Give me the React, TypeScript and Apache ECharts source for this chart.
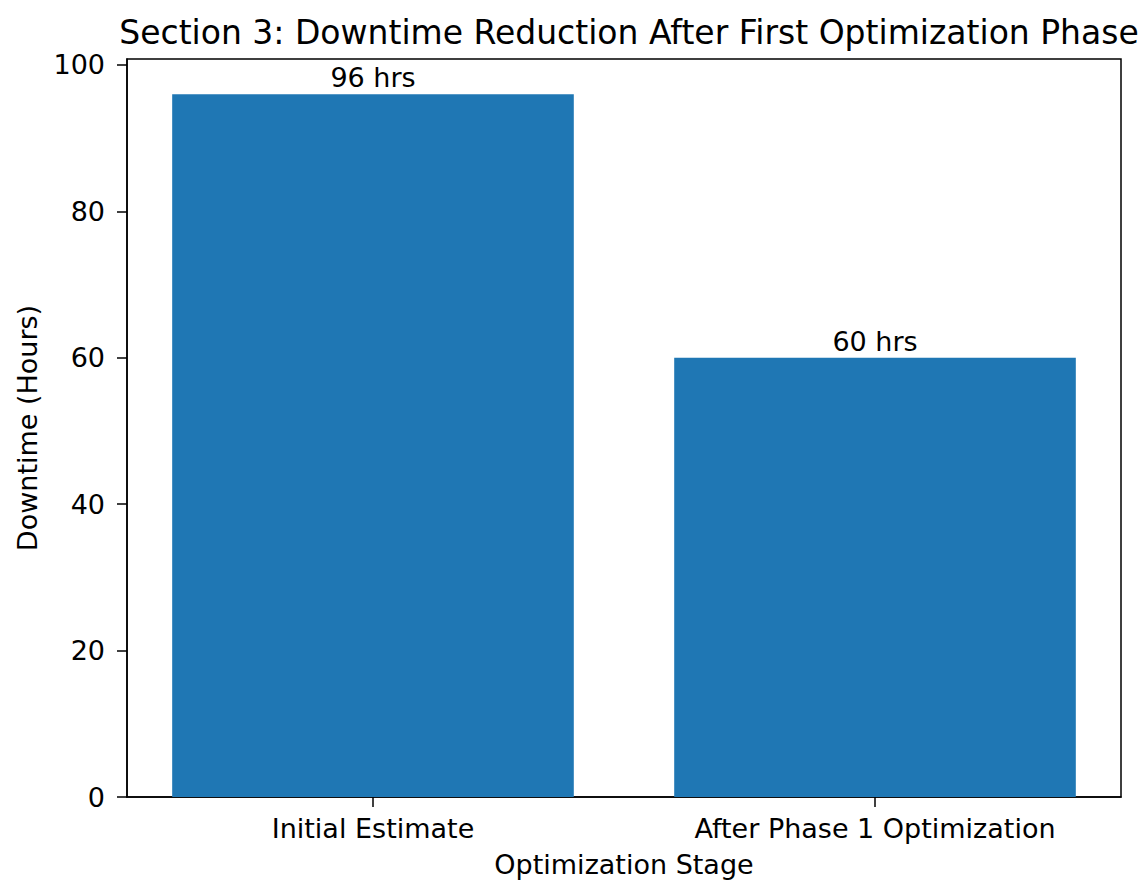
import React, { useEffect, useRef } from "react";
import * as echarts from "echarts";

const categories = ["Initial Estimate", "After Phase 1 Optimization"];
const downtime = [96, 60];
const yTicks = [0, 20, 40, 60, 80, 100];
const xPositions = [0, 1];

export default function App() {
  const ref = useRef<HTMLDivElement>(null);
  useEffect(() => {
    const chart = echarts.init(ref.current!, null, { renderer: "svg" });
    const font = "DejaVu Sans";
    const xMin = -0.49;
    const xMax = 1.49;
    const plotWidth = 1144 - 127 - 23;
    const barPx = (0.8 * plotWidth) / (xMax - xMin);
    chart.setOption({
      animation: false,
      backgroundColor: "#ffffff",
      textStyle: { fontFamily: font },
      title: {
        text: "Section 3: Downtime Reduction After First Optimization Phase",
        left: 624,
        textAlign: "center",
        top: 11,
        textStyle: { fontFamily: font, fontSize: 33, fontWeight: "normal", color: "#000" },
      },
      grid: {
        left: 127,
        right: 23,
        top: 59,
        bottom: 81,
        show: true,
        borderColor: "#000",
        borderWidth: 1.5,
        backgroundColor: "transparent",
      },
      xAxis: {
        type: "value",
        min: xMin,
        max: xMax,
        name: "Optimization Stage",
        nameLocation: "middle",
        nameGap: 54,
        nameTextStyle: { fontFamily: font, fontSize: 27, color: "#000" },
        axisLine: { show: true, onZero: false, lineStyle: { color: "#000", width: 1.5 } },
        axisTick: { show: true, length: 10, customValues: xPositions, lineStyle: { color: "#000", width: 1.5 } },
        axisLabel: {
          fontFamily: font,
          fontSize: 27,
          color: "#000",
          margin: 18,
          customValues: xPositions,
          formatter: (v: number) => categories[Math.round(v)] ?? "",
        },
        splitLine: { show: false },
      },
      yAxis: {
        type: "value",
        min: 0,
        max: 100.8,
        name: "Downtime (Hours)",
        nameLocation: "middle",
        nameGap: 86,
        nameTextStyle: { fontFamily: font, fontSize: 27, color: "#000" },
        axisLine: { show: true, onZero: false, lineStyle: { color: "#000", width: 1.5 } },
        axisTick: { show: true, length: 10, customValues: yTicks, lineStyle: { color: "#000", width: 1.5 } },
        axisLabel: { fontFamily: font, fontSize: 27, color: "#000", margin: 22, customValues: yTicks },
        splitLine: { show: false },
      },
      series: [
        {
          type: "bar",
          data: xPositions.map((x, i) => [x, downtime[i]]),
          barWidth: barPx,
          itemStyle: { color: "#1f77b4" },
          label: {
            show: true,
            position: "top",
            distance: 3,
            formatter: (p: any) => `${p.value[1]} hrs`,
            fontFamily: font,
            fontSize: 27,
            color: "#000",
          },
        },
      ],
    });
    return () => chart.dispose();
  }, []);
  return (
    <div
      ref={ref}
      style={{ position: "fixed", left: 0, top: 0, width: 1144, height: 883 }}
    />
  );
}
